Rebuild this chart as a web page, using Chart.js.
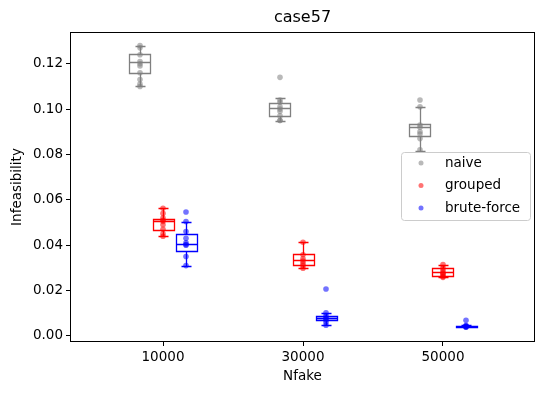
<!DOCTYPE html>
<html>
<head>
<meta charset="utf-8">
<script src="https://cdn.jsdelivr.net/npm/chart.js@4.4.1/dist/chart.umd.min.js"></script>
<style>
  html, body { margin: 0; padding: 0; background: #fff; }
  #wrap { width: 545px; height: 393px; }
</style>
</head>
<body>
<div id="wrap"><canvas id="boxChart" width="545" height="393"></canvas></div>
<script>
// categories (Nfake) and methods
var categories = [10000, 30000, 50000];
var methods = ['naive', 'grouped', 'brute-force'];

// raw samples per category
var naiveSamples = [
    [0.128, 0.127, 0.124, 0.121, 0.120, 0.119, 0.116, 0.113, 0.111, 0.110],
    [0.114, 0.104, 0.103, 0.101, 0.100, 0.099, 0.097, 0.095, 0.095],
    [0.104, 0.101, 0.093, 0.092, 0.090, 0.089, 0.087, 0.082]
];
var groupedSamples = [
    [0.0563, 0.054, 0.052, 0.051, 0.0505, 0.049, 0.047, 0.045, 0.0439],
    [0.0413, 0.0358, 0.034, 0.033, 0.032, 0.031, 0.0298],
    [0.0314, 0.030, 0.029, 0.028, 0.0275, 0.027, 0.0262, 0.0258]
];
var bruteSamples = [
    [0.0546, 0.0504, 0.046, 0.043, 0.041, 0.0403, 0.040, 0.035, 0.031],
    [0.0207, 0.0102, 0.009, 0.008, 0.0078, 0.007, 0.006, 0.0047],
    [0.0069, 0.0045, 0.0043, 0.0042, 0.0041, 0.004, 0.0038]
];

// box stats per category: [whiskerLow, q1, median, q3, whiskerHigh]
var naiveBox = [
    [0.110, 0.1159, 0.1208, 0.1243, 0.1279],
    [0.0947, 0.0969, 0.1004, 0.1027, 0.1049],
    [0.0816, 0.0880, 0.0919, 0.0934, 0.1010]
];
var groupedBox = [
    [0.0439, 0.0469, 0.0506, 0.0516, 0.0563],
    [0.0298, 0.0313, 0.0336, 0.0361, 0.0413],
    [0.0258, 0.0262, 0.0280, 0.0300, 0.0314]
];
var bruteBox = [
    [0.0310, 0.0375, 0.0403, 0.0450, 0.0504],
    [0.0047, 0.0069, 0.0080, 0.0088, 0.0102],
    [0.0038, 0.0040, 0.0042, 0.0045, 0.0047]
];

var yTicks = [0, 0.02, 0.04, 0.06, 0.08, 0.10, 0.12];

// layout / style
var offsets = [-3286, 0, 3286];
var boxWidth = 3000;
var lineColors = ['#808080', '#ff0000', '#0000ff'];
var pointColors = ['rgba(128,128,128,0.55)', 'rgba(255,0,0,0.55)', 'rgba(0,0,255,0.55)'];
var samples = [naiveSamples, groupedSamples, bruteSamples];
var boxes = [naiveBox, groupedBox, bruteBox];
var FONT = 'DejaVu Sans';

function toPoints(m) {
    var pts = [];
    samples[m].forEach(function (arr, i) {
        arr.forEach(function (v) {
            pts.push({ x: categories[i] + offsets[m], y: v });
        });
    });
    return pts;
}

var boxPlugin = {
    id: 'boxes',
    beforeDatasetsDraw: function (chart) {
        var ctx = chart.ctx, xs = chart.scales.x, ys = chart.scales.y;
        ctx.save();
        ctx.lineWidth = 1.3;
        boxes.forEach(function (set, m) {
            ctx.strokeStyle = lineColors[m];
            set.forEach(function (b, i) {
                var cx = categories[i] + offsets[m];
                var x0 = Math.round(xs.getPixelForValue(cx - boxWidth / 2)) + 0.5;
                var x1 = Math.round(xs.getPixelForValue(cx + boxWidth / 2)) + 0.5;
                var xc = Math.round(xs.getPixelForValue(cx)) + 0.5;
                var c0 = Math.round(xs.getPixelForValue(cx - boxWidth / 4)) + 0.5;
                var c1 = Math.round(xs.getPixelForValue(cx + boxWidth / 4)) + 0.5;
                var p = b.map(function (v) { return Math.round(ys.getPixelForValue(v)) + 0.5; });
                ctx.beginPath();
                ctx.rect(x0, p[3], x1 - x0, p[1] - p[3]);
                ctx.moveTo(x0, p[2]); ctx.lineTo(x1, p[2]);
                ctx.moveTo(xc, p[1]); ctx.lineTo(xc, p[0]);
                ctx.moveTo(xc, p[3]); ctx.lineTo(xc, p[4]);
                ctx.moveTo(c0, p[0]); ctx.lineTo(c1, p[0]);
                ctx.moveTo(c0, p[4]); ctx.lineTo(c1, p[4]);
                ctx.stroke();
            });
        });
        ctx.restore();
    },
    afterDraw: function (chart) {
        var ctx = chart.ctx, a = chart.chartArea;
        ctx.save();
        // frame
        ctx.strokeStyle = '#000';
        ctx.lineWidth = 1;
        var l = Math.round(a.left) + 0.5, t = Math.round(a.top) + 0.5;
        var r = Math.round(a.right) - 0.5, b = Math.round(a.bottom) - 0.5;
        ctx.strokeRect(l, t, r - l, b - t);
        // title and axis labels
        ctx.fillStyle = '#000';
        ctx.textAlign = 'center';
        ctx.textBaseline = 'middle';
        ctx.font = '16px ' + FONT;
        ctx.fillText('case57', (a.left + a.right) / 2, 18);
        ctx.font = '13.5px ' + FONT;
        ctx.fillText('Nfake', (a.left + a.right) / 2, 376);
        ctx.save();
        ctx.translate(17, (a.top + a.bottom) / 2);
        ctx.rotate(-Math.PI / 2);
        ctx.fillText('Infeasibility', 0, 0);
        ctx.restore();
        // legend
        var lx = 401, ly = 152, lw = 129, lh = 68;
        ctx.fillStyle = 'rgba(255,255,255,0.8)';
        ctx.strokeStyle = '#cccccc';
        ctx.beginPath();
        ctx.roundRect(lx + 0.5, ly + 0.5, lw, lh, 3);
        ctx.fill();
        ctx.stroke();
        ctx.textAlign = 'left';
        methods.forEach(function (name, m) {
            var yy = ly + 11 + m * 22.5;
            ctx.fillStyle = pointColors[m];
            ctx.beginPath();
            ctx.arc(lx + 20, yy, 2.5, 0, Math.PI * 2);
            ctx.fill();
            ctx.fillStyle = '#000';
            ctx.fillText(name, lx + 44, yy);
        });
        ctx.restore();
    }
};

var ctx = document.getElementById('boxChart').getContext('2d');
var chart = new Chart(ctx, {
    type: 'scatter',
    data: {
        datasets: methods.map(function (name, m) {
            return {
                label: name,
                data: toPoints(m),
                backgroundColor: pointColors[m],
                borderWidth: 0,
                pointRadius: 2.8
            };
        })
    },
    options: {
        responsive: false,
        animation: false,
        layout: { padding: { top: 32, right: 10, left: 0, bottom: 0 } },
        plugins: {
            legend: { display: false },
            tooltip: { enabled: false }
        },
        scales: {
            x: {
                type: 'linear',
                min: -3286,
                max: 63143,
                afterBuildTicks: function (s) {
                    s.ticks = categories.map(function (v) { return { value: v }; });
                },
                afterFit: function (s) { s.height = 51; },
                grid: { drawOnChartArea: false, tickLength: 4, color: '#000' },
                border: { display: false },
                ticks: {
                    color: '#000',
                    padding: 3,
                    font: { family: FONT, size: 13.5 },
                    callback: function (v) { return String(v); }
                }
            },
            y: {
                min: -0.0027,
                max: 0.134,
                afterBuildTicks: function (s) {
                    s.ticks = yTicks.map(function (v) { return { value: v }; });
                },
                afterFit: function (s) { s.width = 70; },
                grid: { drawOnChartArea: false, tickLength: 4, color: '#000' },
                border: { display: false },
                ticks: {
                    color: '#000',
                    padding: 3,
                    font: { family: FONT, size: 13.5 },
                    callback: function (v) { return Number(v).toFixed(2); }
                }
            }
        }
    },
    plugins: [boxPlugin]
});
</script>
</body>
</html>
